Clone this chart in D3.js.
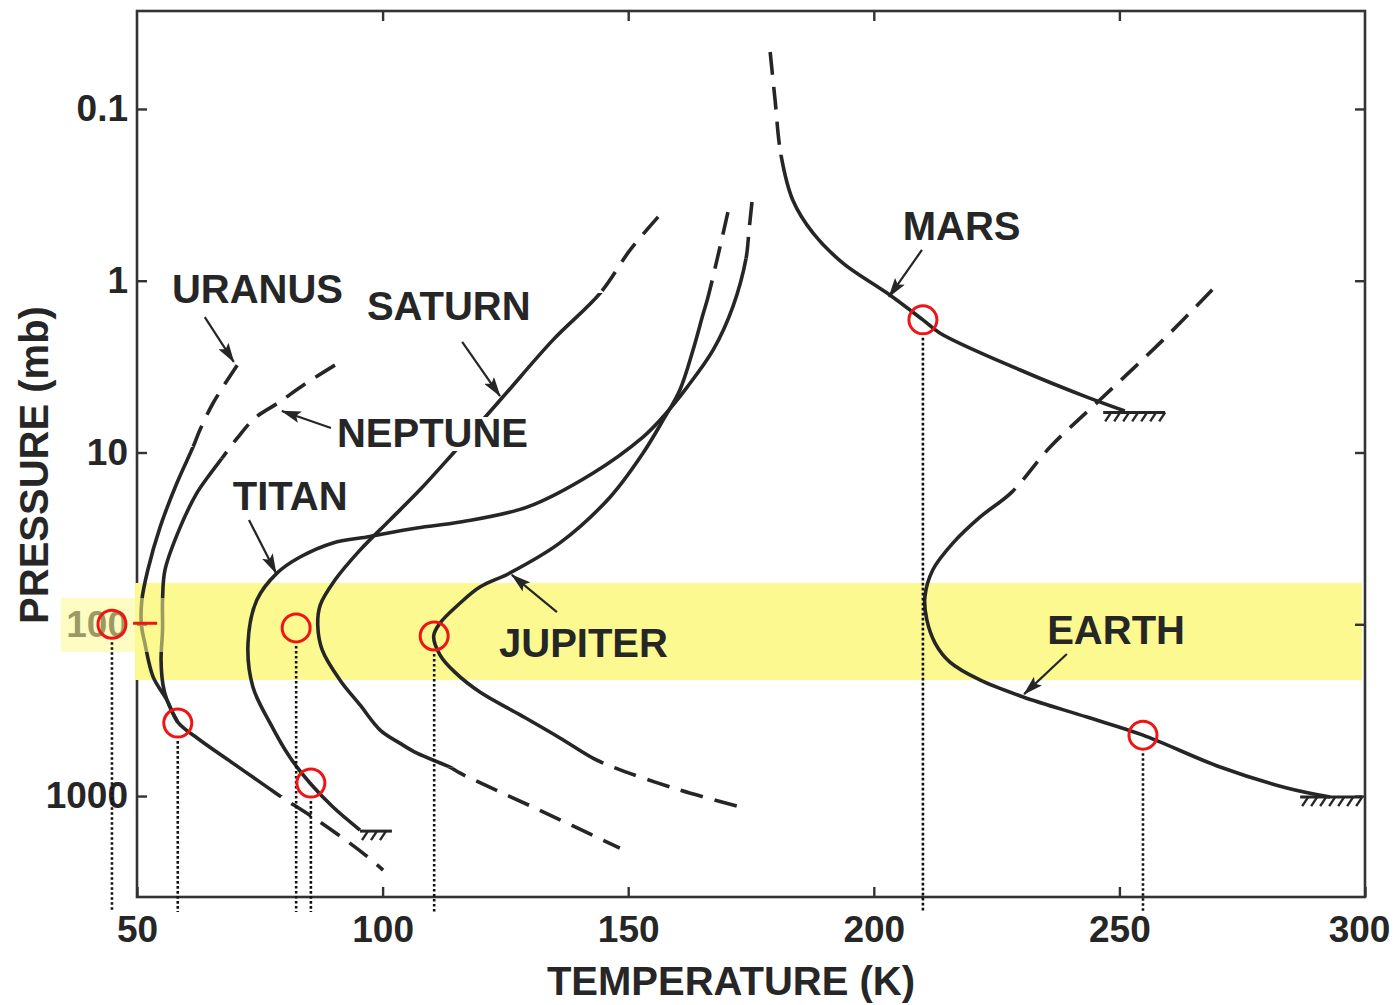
<!DOCTYPE html>
<html>
<head>
<meta charset="utf-8">
<script src="https://cdn.jsdelivr.net/npm/d3@7"></script>
<style>
    body { margin: 0; background: #fff; }
    svg text { font-family: "Liberation Sans", Arial, Helvetica, sans-serif; font-weight: bold; fill: #262626; }
</style>
</head>
<body>
<div id="chart"></div>
<script>
// profiles: [temperature K, pressure mb]
// each profile is solid between the two pressures in its *Solid pair, dashed outside
const uranus = [[70.4, 3.1], [65.5, 5.15], [62.8, 7.4], [61.4, 9.3], [58.1, 15.1], [54.7, 27.2], [52.2, 48.3], [51.0, 72], [50.9, 101], [51.6, 129], [53.3, 203], [56.1, 276], [58.3, 371], [62.8, 472], [69.5, 643], [76.5, 887], [79.1, 1000], [87.3, 1419], [96.0, 2148], [100.1, 2698]];
const uranusSolid = [9.3, 1000];

const neptune = [[90.3, 3.1], [84.2, 3.99], [78.7, 5.15], [74.0, 6.3], [70.4, 8.25], [67.3, 10.8], [64.5, 13.8], [62.2, 17.2], [58.8, 27.2], [55.7, 48.3], [55.2, 72.3], [55.2, 108], [54.9, 161], [55.3, 226], [56.1, 276], [58.3, 371]];
const neptuneSolid = [10.8, null];

const titan = [[175.2, 0.348], [174.6, 0.508], [174.0, 0.739], [171.3, 1.42], [167.3, 2.53], [162.0, 4.16], [156.5, 6.47], [153.0, 8.13], [142.8, 13.2], [129.4, 20.8], [115.8, 25.4], [107.0, 27.5], [96.8, 31.0], [89.9, 33.6], [83.2, 40.6], [78.5, 50.4], [74.4, 72.3], [72.6, 129], [73.6, 232], [77.1, 376], [81.1, 593], [85.2, 840], [89.9, 1159], [95.4, 1578]];
const titanSolid = [0.739, null];

const saturn = [[156.1, 0.425], [150.4, 0.662], [144.3, 1.18], [134.7, 2.21], [124.3, 4.82], [114.1, 10.3], [107.6, 16.5], [101.5, 24.7], [95.4, 37.0], [90.3, 55.3], [87.3, 77.3], [86.8, 101], [87.7, 141], [91.3, 211], [95.4, 295], [99.5, 413], [103.5, 492], [107.0, 563], [113.7, 679], [115.8, 736], [132.0, 1210], [148.3, 2013]];
const saturnSolid = [1.18, 679];

const jupiter = [[170.3, 0.399], [168.3, 0.71], [166.2, 1.26], [165.2, 1.58], [163.2, 2.53], [160.5, 4.34], [157.1, 6.48], [153.0, 10.1], [146.3, 18.2], [136.1, 33.6], [125.9, 50.3], [119.8, 60.7], [115.8, 75.2], [111.7, 98.4], [110.4, 117], [111.7, 151], [114.7, 190], [119.8, 248], [128.0, 337], [136.1, 459], [142.8, 601], [146.9, 678], [160.5, 923], [173.8, 1175]];
const jupiterSolid = [1.26, 601];

const mars = [[178.9, 0.0466], [179.9, 0.0887], [181.1, 0.185], [183.5, 0.339], [187.6, 0.527], [193.7, 0.789], [202.7, 1.18], [210.0, 1.69], [213.5, 2.02], [229.8, 3.31], [243.4, 4.76], [251.1, 5.73]];
const marsSolid = [0.185, null];

const earth = [[268.9, 1.13], [258.9, 2.21], [246.0, 4.95], [235.9, 9.29], [228.1, 17.0], [221.6, 23.8], [216.1, 33.7], [212.0, 48.3], [210.4, 69.4], [210.8, 94.4], [212.5, 129], [215.5, 166], [221.6, 211], [230.4, 265], [243.4, 347], [254.8, 442], [270.5, 678], [284.1, 898], [292.9, 1014]];
const earthSolid = [17.0, null];

// surface (ground) marks: [T start, T end, pressure]
const surfaces = [[95.4, 101.9, 1600], [246.7, 259.3, 5.84], [286.8, 299.4, 1014]];

// red markers and their dotted drop lines
const markerT = [44.9, 58.3, 82.4, 85.4, 110.5, 210.0, 254.8];
const markerP = [100, 376, 105, 840, 117, 1.69, 442];
const dropBottomP = 4730;
const redTickT = [49.2, 54.1];
const redTickP = 100;

// highlighted pressure band and its spill over the "100" label
const bandT = [49.6, 299.4], bandP = [57.5, 211];
const patchT = [34.5, 56.1], patchP = [70.3, 145];

// axes
const tempTicks = [50, 100, 150, 200, 250, 300];
const pressTicks = [0.1, 1, 10, 100, 1000];
const pressLabels = ["0.1", "1", "10", "100", "1000"];

// labels with arrows
const labelNames = ["URANUS", "SATURN", "MARS", "NEPTUNE", "TITAN", "JUPITER", "EARTH"];
const labelT = [57.1, 96.8, 205.9, 90.7, 69.5, 123.7, 235.3];
const labelP = [1.35, 1.69, 0.579, 9.29, 21.6, 155, 130];
const arrowFrom = [[63.8, 1.63], [116.2, 2.27], [209.8, 0.662], [89.5, 7.2], [72.8, 24.7], [135.5, 84.9], [239.3, 149]];
const arrowTo = [[69.7, 2.97], [123.9, 4.69], [203.1, 1.24], [79.5, 5.73], [78.3, 50.3], [126.3, 51.6], [230.6, 255]];

// set the dimensions and margins of the graph
const margin = {top: 11, right: 29, bottom: 108, left: 137},
    width = 1394 - margin.left - margin.right,
    height = 1005 - margin.top - margin.bottom;

const ink = "#262626";

const svg = d3.select("#chart")
    .append("svg")
    .attr("width", 1394)
    .attr("height", 1005)
    .style("background", "#fff");

const defs = svg.append("defs");
const g = svg.append("g")
    .attr("transform", `translate(${margin.left},${margin.top})`);

const x = d3.scaleLinear().domain([50, 300]).range([0, width]);
const y = d3.scaleLog().domain([0.0269, 3870]).range([0, height]);

// arrow head
defs.append("marker")
    .attr("id", "head")
    .attr("markerUnits", "userSpaceOnUse")
    .attr("markerWidth", 20)
    .attr("markerHeight", 12)
    .attr("refX", 19)
    .attr("refY", 6)
    .attr("orient", "auto")
    .append("path")
    .attr("d", "M0,0 L20,6 L0,12 L4,6 Z")
    .attr("fill", ink);

// frame
g.append("rect")
    .attr("width", width)
    .attr("height", height)
    .attr("fill", "none")
    .attr("stroke", "#333")
    .attr("stroke-width", 2.6);

// yellow band
g.append("rect")
    .attr("x", x(bandT[0]))
    .attr("y", y(bandP[0]))
    .attr("width", x(bandT[1]) - x(bandT[0]))
    .attr("height", y(bandP[1]) - y(bandP[0]))
    .attr("fill", "#fbf98f");

// axes (ticks point inward)
function styleAxis(sel) {
    sel.select(".domain").remove();
    sel.selectAll(".tick line").attr("stroke", "#333").attr("stroke-width", 2.4);
    sel.selectAll("text")
        .style("font-size", "37px")
        .attr("fill", ink);
}

const xAxis = g.append("g")
    .attr("transform", `translate(0,${height})`)
    .call(d3.axisBottom(x).tickValues(tempTicks).tickSize(-10).tickSizeOuter(0).tickPadding(19).tickFormat(d3.format("d")))
    .call(styleAxis);
// keep the last label inside the page
xAxis.selectAll(".tick text").filter(d => d === 300).attr("dx", -6);

g.append("g")
    .call(d3.axisTop(x).tickValues(tempTicks.slice(1, -1)).tickSize(-10).tickSizeOuter(0).tickFormat(""))
    .call(styleAxis);

g.append("g")
    .call(d3.axisLeft(y).tickValues(pressTicks).tickSize(-10).tickSizeOuter(0).tickPadding(9)
        .tickFormat((d, i) => pressLabels[i]))
    .call(styleAxis);

g.append("g")
    .attr("transform", `translate(${width},0)`)
    .call(d3.axisRight(y).tickValues(pressTicks).tickSize(-10).tickSizeOuter(0).tickFormat(""))
    .call(styleAxis);

// axis titles
svg.append("text")
    .attr("transform", "translate(48,465) rotate(-90)")
    .attr("text-anchor", "middle")
    .style("font-size", "40px")
    .text("PRESSURE (mb)");

svg.append("text")
    .attr("x", 731)
    .attr("y", 995)
    .attr("text-anchor", "middle")
    .style("font-size", "40px")
    .text("TEMPERATURE (K)");

// profiles: one smooth path each, drawn solid inside its pressure range and dashed outside
const line = d3.line()
    .x(d => x(d[0]))
    .y(d => y(d[1]))
    .curve(d3.curveCatmullRom.alpha(0.5));

const profiles = [
    ["uranus", uranus, uranusSolid],
    ["neptune", neptune, neptuneSolid],
    ["titan", titan, titanSolid],
    ["saturn", saturn, saturnSolid],
    ["jupiter", jupiter, jupiterSolid],
    ["mars", mars, marsSolid],
    ["earth", earth, earthSolid]
];

const far = 2000;
profiles.forEach(([name, pts, solid]) => {
    const y0 = solid[0] === null ? -far : y(solid[0]);
    const y1 = solid[1] === null ? far : y(solid[1]);

    const solidClip = defs.append("clipPath").attr("id", `solid-${name}`);
    solidClip.append("rect")
        .attr("x", -far).attr("width", 2 * far)
        .attr("y", y0).attr("height", y1 - y0);

    const dashClip = defs.append("clipPath").attr("id", `dash-${name}`);
    dashClip.append("rect")
        .attr("x", -far).attr("width", 2 * far)
        .attr("y", -far).attr("height", y0 + far);
    dashClip.append("rect")
        .attr("x", -far).attr("width", 2 * far)
        .attr("y", y1).attr("height", far);

    const d = line(pts);
    g.append("path")
        .attr("d", d)
        .attr("clip-path", `url(#solid-${name})`)
        .attr("fill", "none")
        .attr("stroke", ink)
        .attr("stroke-width", 3.6);

    g.append("path")
        .attr("d", d)
        .attr("clip-path", `url(#dash-${name})`)
        .attr("fill", "none")
        .attr("stroke", ink)
        .attr("stroke-width", 3.6)
        .attr("stroke-dasharray", "23,12");
});

// ground hatches
surfaces.forEach(s => {
    const x0 = x(s[0]), x1 = x(s[1]), yy = y(s[2]);
    g.append("line")
        .attr("x1", x0).attr("x2", x1)
        .attr("y1", yy).attr("y2", yy)
        .attr("stroke", ink).attr("stroke-width", 3);
    for (let xi = x0 + 8; xi <= x1 + 1; xi += 9) {
        g.append("line")
            .attr("x1", xi).attr("y1", yy)
            .attr("x2", xi - 6).attr("y2", yy + 9)
            .attr("stroke", ink).attr("stroke-width", 2.4);
    }
});

// labels (NEPTUNE sits on top of the Saturn profile)
const labels = g.selectAll(".label")
    .data(labelNames)
    .enter()
    .append("g")
    .attr("class", "label");

labels.append("text")
    .attr("x", (d, i) => x(labelT[i]))
    .attr("y", (d, i) => y(labelP[i]))
    .style("font-size", "40px")
    .text(d => d);

labels.filter(d => d === "NEPTUNE").each(function() {
    const b = d3.select(this).select("text").node().getBBox();
    d3.select(this).insert("rect", "text")
        .attr("x", b.x - 2).attr("y", b.y + 6)
        .attr("width", b.width + 4).attr("height", b.height - 10)
        .attr("fill", "#fff");
});

g.selectAll(".arrow")
    .data(arrowFrom)
    .enter()
    .append("line")
    .attr("class", "arrow")
    .attr("x1", d => x(d[0]))
    .attr("y1", d => y(d[1]))
    .attr("x2", (d, i) => x(arrowTo[i][0]))
    .attr("y2", (d, i) => y(arrowTo[i][1]))
    .attr("stroke", ink)
    .attr("stroke-width", 2.2)
    .attr("marker-end", "url(#head)");

// faded spill of the band over the "100" label
g.append("rect")
    .attr("x", x(patchT[0]))
    .attr("y", y(patchP[0]))
    .attr("width", x(patchT[1]) - x(patchT[0]))
    .attr("height", y(patchP[1]) - y(patchP[0]))
    .attr("fill", "#fbf98f")
    .attr("opacity", 0.55);

// dotted drop lines
const r = 14;
g.selectAll(".drop")
    .data(markerT)
    .enter()
    .append("line")
    .attr("class", "drop")
    .attr("x1", d => x(d))
    .attr("x2", d => x(d))
    .attr("y1", (d, i) => y(markerP[i]) + r + 4)
    .attr("y2", y(dropBottomP))
    .attr("stroke", "#111")
    .attr("stroke-width", 2.6)
    .attr("stroke-dasharray", "2.6,2.4");

// red markers
g.append("line")
    .attr("x1", x(redTickT[0])).attr("x2", x(redTickT[1]))
    .attr("y1", y(redTickP) - 1).attr("y2", y(redTickP) - 1)
    .attr("stroke", "#f01414")
    .attr("stroke-width", 3);

g.selectAll(".marker")
    .data(markerT)
    .enter()
    .append("circle")
    .attr("class", "marker")
    .attr("cx", d => x(d))
    .attr("cy", (d, i) => y(markerP[i]))
    .attr("r", r)
    .attr("fill", "none")
    .attr("stroke", "#f01414")
    .attr("stroke-width", 3);
</script>
</body>
</html>
